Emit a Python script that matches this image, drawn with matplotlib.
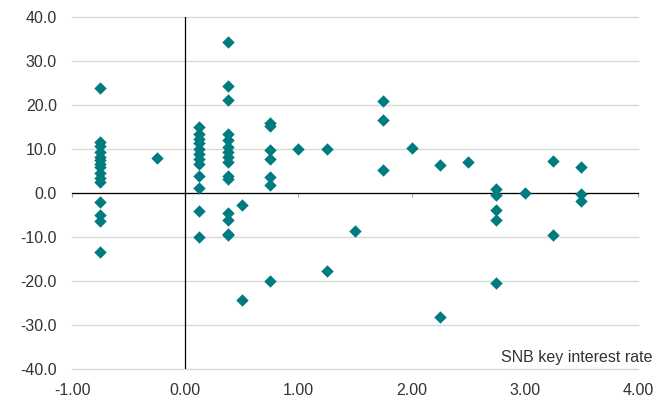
import matplotlib
matplotlib.use("Agg")
import matplotlib.pyplot as plt

plt.rcParams['font.family'] = ['Liberation Sans', 'DejaVu Sans']

# SNB key interest rate (x) against change (y)
rate = ([-0.75] * 15 + [-0.25] + [0.125] * 12 + [0.375] * 15 + [0.5] * 2
        + [0.75] * 7 + [1.0] + [1.25] * 2 + [1.5] + [1.75] * 3 + [2.0]
        + [2.25] * 2 + [2.5] + [2.75] * 5 + [3.0] + [3.25] * 2 + [3.5] * 3)
change = [23.8, 11.6, 10.6, 9.3, 8.2, 7.4, 6.6, 5.8, 4.5, 3.4, 2.4, -2.0, -5.0, -6.5, -13.4,
          8.0,
          14.9, 13.4, 12.3, 11.2, 10.0, 8.9, 7.7, 6.6, 3.9, 1.1, -4.1, -10.1,
          34.2, 24.3, 21.0, 13.4, 11.9, 10.4, 9.2, 8.1, 7.0, 3.9, 3.2, -4.6, -6.3, -9.3, -9.7,
          -2.7, -24.5,
          15.8, 15.2, 9.6, 7.7, 3.6, 1.7, -20.0,
          9.9,
          9.9, -17.7,
          -8.7,
          20.9, 16.5, 5.1,
          10.2,
          6.4, -28.2,
          6.9,
          0.9, -0.6, -4.0, -6.3, -20.5,
          0.0,
          7.3, -9.7,
          5.8, -0.2, -1.9]

xticks = [-1, 0, 1, 2, 3, 4]
yticks = [-40, -30, -20, -10, 0, 10, 20, 30, 40]
xlabel = "SNB key interest rate"

fig = plt.figure(figsize=(6.68, 3.99), dpi=100)
ax = fig.add_axes([0.108, 0.076, 0.847, 0.882])

ax.scatter(rate, change, marker="D", s=40, color="#007B7F", linewidths=0, zorder=3)

ax.set_xlim(-1, 4)
ax.set_ylim(-40, 40)
ax.set_yticks(yticks)
ax.set_yticklabels([f"{v:.1f}" for v in yticks])
ax.set_xticks(xticks)
ax.yaxis.grid(True, color="#d9d9d9", linewidth=1)
for gl in ax.get_ygridlines():
    gl.set_clip_on(False)
ax.set_axisbelow(True)

# zero line with small ticks, labels stay at the bottom
for s in ["top", "right", "left"]:
    ax.spines[s].set_visible(False)
ax.spines["bottom"].set_position(("data", 0))
ax.spines["bottom"].set_color("black")
ax.spines["bottom"].set_linewidth(0.9)
ax.tick_params(axis="x", direction="out", length=3, color="#a6a6a6", labelbottom=False)
ax.tick_params(axis="y", length=0, pad=11, labelsize=11.5, labelcolor="#333333")
ax.axvline(0, color="black", linewidth=0.9, zorder=2)

sec = ax.secondary_xaxis("bottom")
sec.set_xticks(xticks)
sec.set_xticklabels([f"{v:.2f}" for v in xticks])
sec.spines["bottom"].set_visible(False)
sec.tick_params(length=0, pad=10, labelsize=11.5, labelcolor="#333333")

ax.text(4.13, -37.4, xlabel, ha="right", va="center", fontsize=11.5,
        color="#333333", clip_on=False)

plt.savefig("out.png", dpi=100)
